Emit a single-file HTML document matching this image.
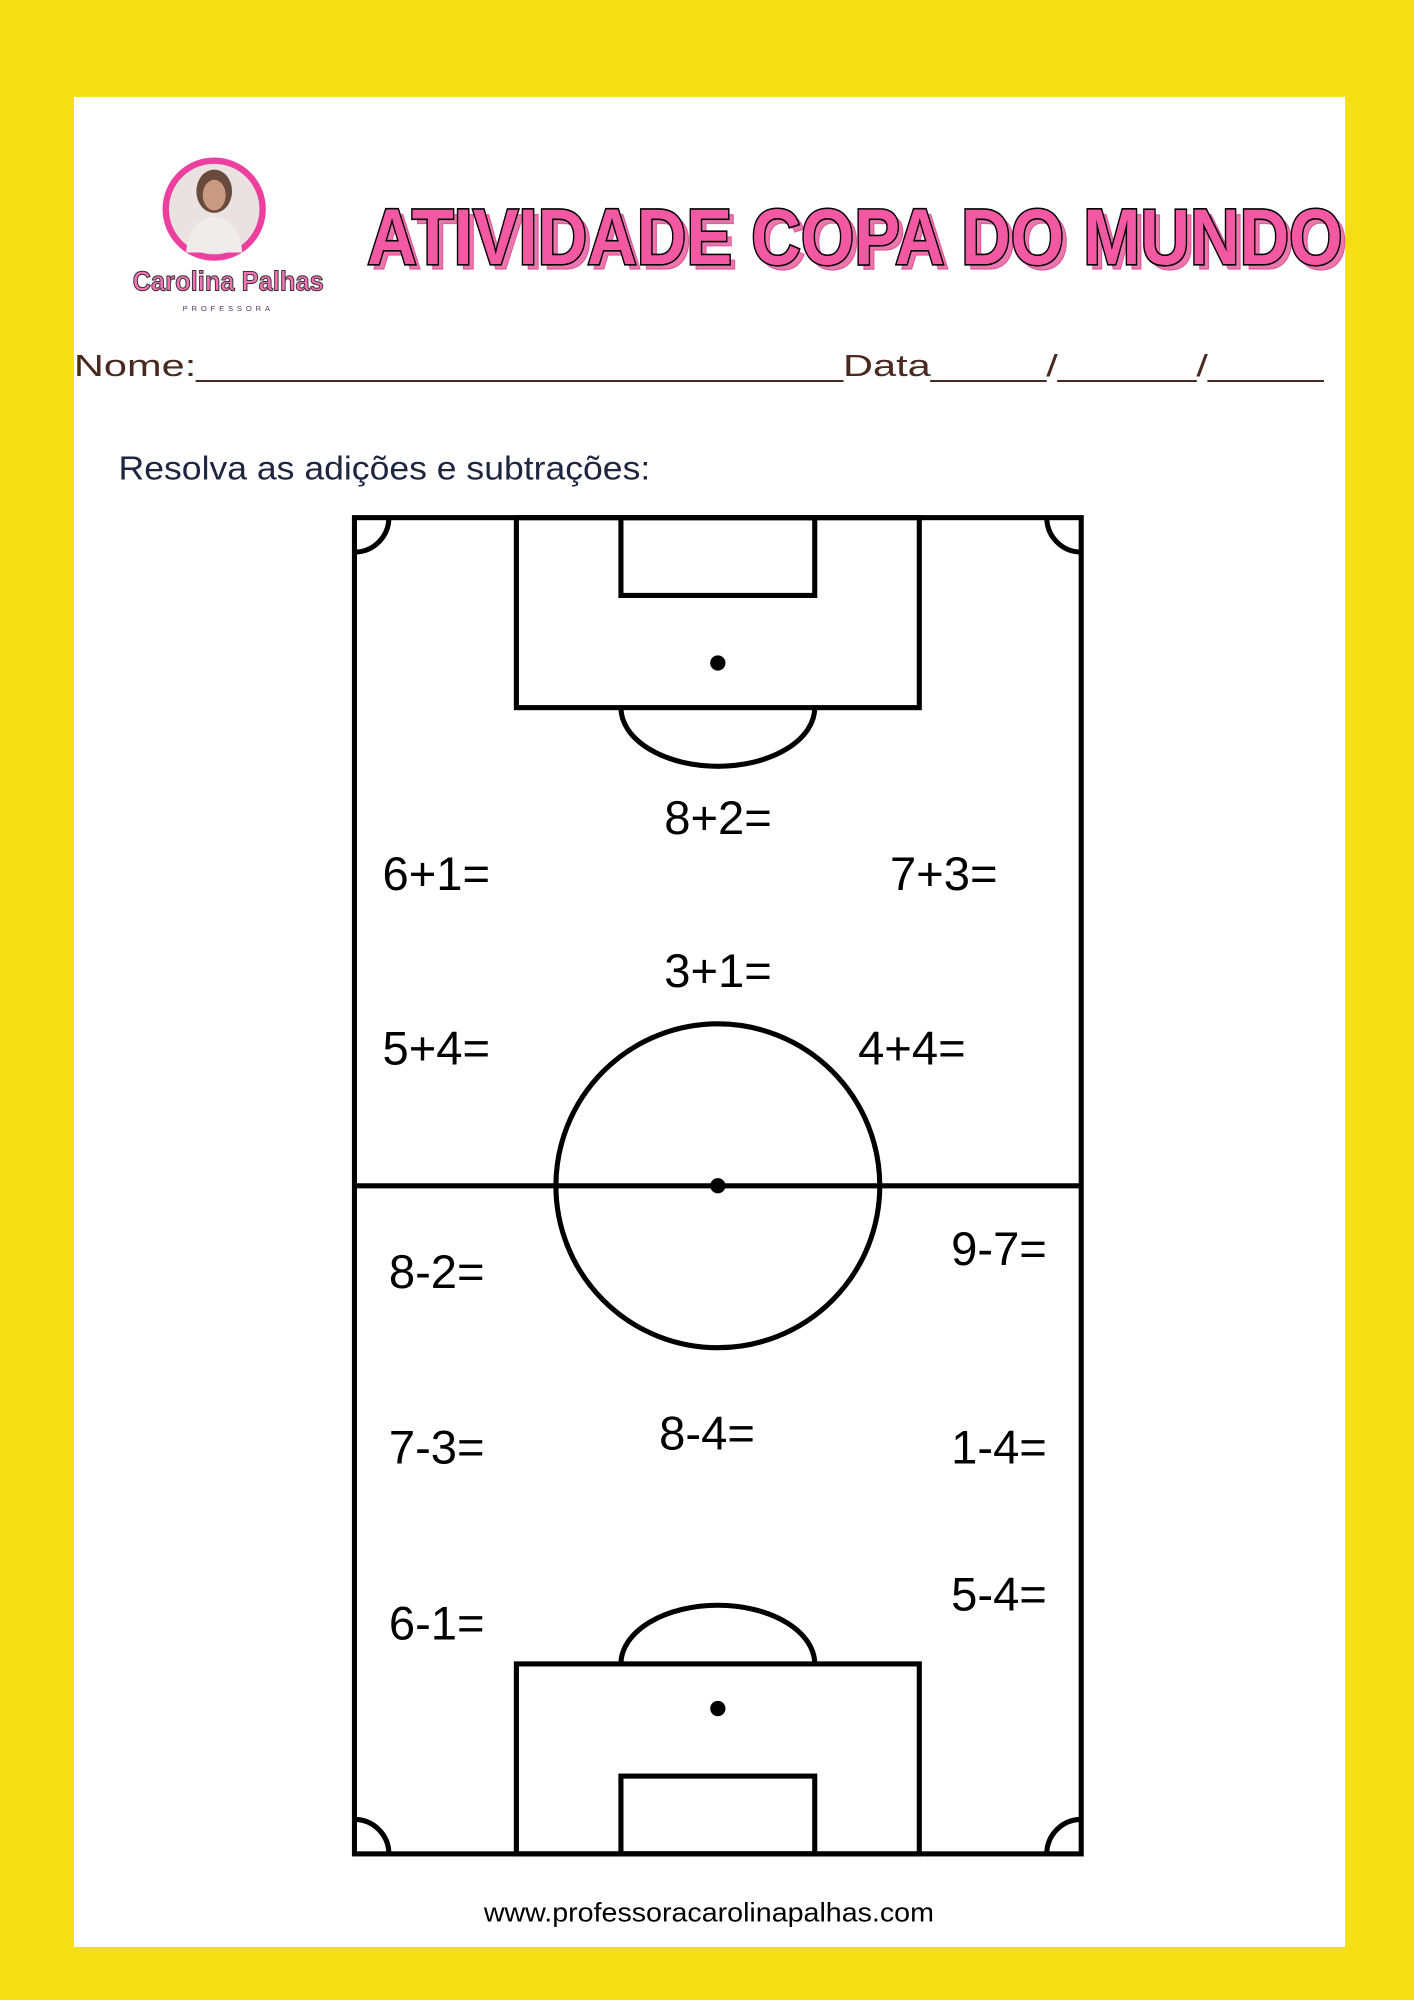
<!DOCTYPE html>
<html><head><meta charset="utf-8"><style>html,body{margin:0;padding:0;background:#f4df13}svg{display:block}</style></head>
<body>
<svg width="1414" height="2000" viewBox="0 0 1109 1568.6" xmlns="http://www.w3.org/2000/svg" font-family="Liberation Sans, Arial, sans-serif">
<rect x="0" y="0" width="1109" height="1568.6" fill="#f4df13"/>
<rect x="58" y="76" width="997" height="1451" fill="#fff"/>
<!-- logo -->
<circle cx="168" cy="164" r="38" fill="#e9e2e0" stroke="#ec3fa0" stroke-width="5"/>
<ellipse cx="168" cy="150" rx="14" ry="17" fill="#6a4a3c"/>
<ellipse cx="168" cy="153" rx="9" ry="12" fill="#c99a82"/>
<path d="M146 198 Q148 172 168 170 Q188 172 190 198 Z" fill="#f1ecec"/>
<text x="179" y="228" font-size="22" font-weight="bold" fill="#f472b6" stroke="#333" stroke-width="0.8" text-anchor="middle" textLength="150" lengthAdjust="spacingAndGlyphs">Carolina Palhas</text>
<text x="179" y="244" font-size="6" fill="#5a3a6a" text-anchor="middle" letter-spacing="3">PROFESSORA</text>
<!-- title -->
<text x="290" y="209" font-size="62" font-weight="bold" fill="#e9559a" stroke="#d63384" stroke-width="1" textLength="765" lengthAdjust="spacingAndGlyphs" transform="translate(2,2)" opacity="0.8">ATIVIDADE COPA DO MUNDO</text>
<text x="288" y="207" font-size="62" font-weight="bold" fill="#f358a3" stroke="#000" stroke-width="2.5" paint-order="stroke" textLength="765" lengthAdjust="spacingAndGlyphs">ATIVIDADE COPA DO MUNDO</text>
<text x="58" y="295" font-size="24" fill="#4a2a20" textLength="980" lengthAdjust="spacingAndGlyphs">Nome:____________________________Data_____/______/_____</text>
<text x="93" y="376" font-size="26" fill="#1e2540" textLength="417" lengthAdjust="spacingAndGlyphs">Resolva as adições e subtrações:</text>
<!-- field -->
<g fill="none" stroke="#000" stroke-width="4">
<rect x="278" y="406" width="570" height="1048"/>
<rect x="405" y="406" width="316" height="149"/>
<rect x="487" y="406" width="152" height="61"/>
<path d="M487 555 A76 46 0 0 0 639 555"/>
<line x1="278" y1="930" x2="848" y2="930"/>
<circle cx="563" cy="930" r="127"/>
<rect x="405" y="1305" width="316" height="149"/>
<rect x="487" y="1393" width="152" height="61"/>
<path d="M487 1305 A76 46 0 0 1 639 1305"/>
<path d="M305 406 A27 27 0 0 1 278 433"/>
<path d="M821 406 A27 27 0 0 0 848 433"/>
<path d="M278 1427 A27 27 0 0 1 305 1454"/>
<path d="M848 1427 A27 27 0 0 0 821 1454"/>
</g>
<circle cx="563" cy="520" r="6"/>
<circle cx="563" cy="930" r="6"/>
<circle cx="563" cy="1340" r="6"/>
<g font-size="37" fill="#000">
<text x="521" y="654">8+2=</text>
<text x="300" y="698">6+1=</text>
<text x="698" y="698">7+3=</text>
<text x="521" y="774">3+1=</text>
<text x="300" y="835">5+4=</text>
<text x="673" y="835">4+4=</text>
<text x="305" y="1010">8-2=</text>
<text x="746" y="992">9-7=</text>
<text x="305" y="1148">7-3=</text>
<text x="517" y="1137">8-4=</text>
<text x="746" y="1148">1-4=</text>
<text x="746" y="1263">5-4=</text>
<text x="305" y="1286">6-1=</text>
</g>
<text x="556" y="1507" font-size="21" fill="#000" text-anchor="middle" textLength="353" lengthAdjust="spacingAndGlyphs">www.professoracarolinapalhas.com</text>
</svg>
</body></html>
